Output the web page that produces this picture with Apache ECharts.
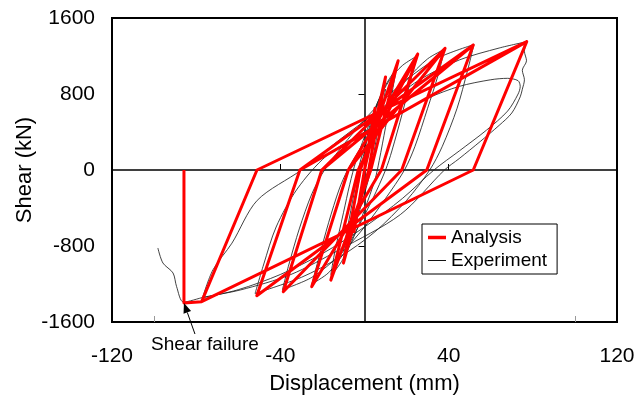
<!DOCTYPE html>
<html>
<head>
<meta charset="utf-8">
<script src="https://cdn.jsdelivr.net/npm/echarts@6/dist/echarts.min.js"></script>
<style>
html,body{margin:0;padding:0;background:#fff;}
#chart{width:638px;height:410px;}
</style>
</head>
<body>
<div id="chart"></div>
<script>
// ---- data (displacement mm, shear kN) ----
var xTicks = [-120, -40, 40, 120];
var yTicks = [-1600, -800, 0, 800, 1600];
var seriesNames = ['Analysis', 'Experiment'];

var analysis = [
  [0,0],[5,650],[0,0],[-5,-650],[0,0],
  [10,980],[2,0],[-10,-980],[-2,0],
  [16,1150],[3,0],[-16,-1160],[-3,0],
  [25.3,1221],[8,0],[-25.1,-1228],[-7.7,0],
  [25.3,1221],[8,0],[-25.1,-1228],[-7.7,0],
  [38.3,1281],[17.7,0],[-38.6,-1281],[-20.3,0],
  [38.3,1281],[17.7,0],[-38.6,-1281],[-20.3,0],
  [51.7,1316],[29.6,0],[-51.2,-1323],[-30.7,0],
  [51.7,1316],[29.6,0],[-51.2,-1323],[-30.7,0],
  [77.1,1351],[51.7,0],[-77.4,-1386],[-51.1,0],
  [77.1,1351],[51.7,0],[-77.4,-1386],[-85.8,-1400],[-85.8,0]
];

var experiment = [
  [0,0],[2,220],[4,400],[6,550],
  [4.5,330],[2.5,100],[1,-100],[-2,-300],[-4,-450],[-6,-550],
  [-4.5,-330],[-2.5,-100],[-1,100],[2,380],[5,620],[8,780],[10,850],
  [8,600],[5,250],[3,0],[0,-250],[-4,-550],[-7,-750],[-10,-850],
  [-8,-600],[-5,-250],[-3,0],[0,250],[4,580],[9,850],[13,1000],[15,1050],
  [13,800],[10,450],[7,100],[5,-100],[0,-420],[-5,-700],[-10,-930],[-14,-1060],[-16,-1100],
  [-14,-850],[-10,-450],[-7,-150],[-4,100],[0,350],[6,700],[12,950],[18,1100],[25,1200],
  [22,950],[18,600],[13,200],[10,0],[4,-300],[-3,-600],[-10,-880],[-17,-1080],[-25,-1200],
  [-22,-950],[-17,-550],[-12,-200],[-8,0],[0,300],[10,650],[20,950],[30,1170],[38,1270],
  [35,1000],[30,650],[24,250],[19,0],[10,-300],[0,-600],[-12,-900],[-25,-1130],[-39,-1260],
  [-36,-1000],[-31,-620],[-25,-250],[-19,0],[-8,320],[5,650],[20,950],[35,1180],[52,1320],
  [49,1050],[44,650],[37,250],[31,0],[20,-320],[5,-650],[-12,-920],[-30,-1130],[-52,-1300],
  [-48,-1000],[-42,-600],[-32,-200],[-18,150],[0,400],[15,580],[30,755],[45,880],[60,950],[68,965],[73,940],[74,880],[73,800],
  [68,620],[58,420],[45,200],[33,0],[18,-300],[0,-600],[-20,-880],[-40,-1100],[-60,-1260],[-77,-1345],
  [-72,-1050],[-63,-770],[-51,-320],[-30,0],[-12,316],[7,632],[26,947],[45,1158],[64,1284],[77,1350],
  [76,1250],[77,1150],[75,1050],[76,950],[75,850],[74,770],
  [70,600],[64,470],[55,300],[45,120],[38,0],[17,-470],[-12,-840],[-35,-1100],[-59,-1263],[-76,-1337],[-86,-1390],
  [-89.3,-1228],[-91,-1084],[-95.8,-979],[-98.2,-821]
];

var failurePoint = [-85.8, -1400];
var failureText = 'Shear failure';

// ---- chart ----
var FONT = "'Liberation Sans', Arial, Helvetica, sans-serif";
var chart = echarts.init(document.getElementById('chart'), null, {renderer: 'canvas'});
var xMin = xTicks[0], xMax = xTicks[xTicks.length - 1];
var yMin = yTicks[0], yMax = yTicks[yTicks.length - 1];
var plain = function (v) { return String(v); };

var option = {
  animation: false,
  backgroundColor: '#fff',
  textStyle: {fontFamily: FONT},
  grid: {left: 112, right: 21, top: 18, bottom: 88, show: true, borderColor: '#000', borderWidth: 2, backgroundColor: 'transparent'},
  legend: {
    data: [
      {name: seriesNames[0], icon: 'path://M0,0L18,0L18,3.5L0,3.5Z', itemStyle: {color: '#ff0000'}},
      {name: seriesNames[1], icon: 'path://M0,0L18,0L18,1L0,1Z', itemStyle: {color: '#111'}}
    ],
    orient: 'vertical',
    left: 422, top: 224,
    padding: [4, 10, 4, 6],
    itemGap: 4,
    itemWidth: 18, itemHeight: 14,
    backgroundColor: '#fff',
    borderColor: '#000', borderWidth: 1, borderRadius: 0,
    textStyle: {fontSize: 19, color: '#000', fontFamily: FONT}
  },
  xAxis: [{
    type: 'value', min: xMin, max: xMax, interval: 80,
    name: 'Displacement (mm)', nameLocation: 'middle', nameGap: 51, nameMoveOverlap: false,
    nameTextStyle: {fontSize: 22, color: '#000', fontFamily: FONT},
    axisLine: {show: false, onZero: false},
    axisTick: {show: true, inside: true, length: 6, customValues: [-100, 100], lineStyle: {color: '#999', width: 1}},
    axisLabel: {fontSize: 21, color: '#000', margin: 24, fontFamily: FONT, formatter: plain},
    splitLine: {show: false}
  }, {
    type: 'value', min: xMin, max: xMax, interval: 80, position: 'bottom',
    axisLine: {show: true, onZero: true, onZeroAxisIndex: 0, lineStyle: {color: '#000', width: 1.5}},
    axisTick: {show: true, inside: true, length: 6, customValues: [-40, 40], lineStyle: {color: '#000', width: 1}},
    axisLabel: {show: false},
    splitLine: {show: false}
  }],
  yAxis: [{
    type: 'value', min: yMin, max: yMax, interval: 800,
    name: 'Shear (kN)', nameLocation: 'middle', nameGap: 76, nameMoveOverlap: false,
    nameTextStyle: {fontSize: 22, color: '#000', fontFamily: FONT},
    axisLine: {show: false, onZero: false},
    axisTick: {show: false},
    axisLabel: {fontSize: 21, color: '#000', margin: 17, fontFamily: FONT, formatter: plain},
    splitLine: {show: false}
  }, {
    type: 'value', min: yMin, max: yMax, interval: 800, position: 'left',
    axisLine: {show: true, onZero: true, onZeroAxisIndex: 0, lineStyle: {color: '#000', width: 1.5}},
    axisTick: {show: true, length: 6, customValues: [-800, 800], lineStyle: {color: '#000', width: 1}},
    axisLabel: {show: false},
    splitLine: {show: false}
  }],
  series: [{
    name: seriesNames[0], type: 'line', xAxisIndex: 0, yAxisIndex: 0,
    data: analysis, symbol: 'none', z: 4,
    lineStyle: {color: '#ff0000', width: 3, join: 'round'},
    itemStyle: {color: '#ff0000'}
  }, {
    name: seriesNames[1], type: 'line', xAxisIndex: 0, yAxisIndex: 0,
    data: experiment, symbol: 'none', smooth: 0.3, z: 3,
    lineStyle: {color: '#222', width: 1, opacity: 0.85},
    itemStyle: {color: '#222'}
  }]
};
chart.setOption(option);

// annotation: arrow pointing at the failure point
var tip = chart.convertToPixel({xAxisIndex: 0, yAxisIndex: 0}, failurePoint);
var tail = [tip[0] + 11, tip[1] + 31];
var ang = Math.atan2(tip[1] - tail[1], tip[0] - tail[0]);
var hl = 10, hw = 4;
var base = [tip[0] - hl * Math.cos(ang), tip[1] - hl * Math.sin(ang)];
var p1 = [base[0] + hw * Math.sin(ang), base[1] - hw * Math.cos(ang)];
var p2 = [base[0] - hw * Math.sin(ang), base[1] + hw * Math.cos(ang)];
chart.setOption({
  graphic: [
    {type: 'line', z: 100, shape: {x1: tail[0], y1: tail[1], x2: base[0], y2: base[1]}, style: {stroke: '#000', lineWidth: 1}},
    {type: 'polygon', z: 100, shape: {points: [tip, p1, p2]}, style: {fill: '#000'}},
    {type: 'text', z: 100, x: tip[0] + 21, y: tip[1] + 42,
     style: {text: failureText, fill: '#000', font: '19px ' + FONT, align: 'center', verticalAlign: 'middle'}}
  ]
});
</script>
</body>
</html>
